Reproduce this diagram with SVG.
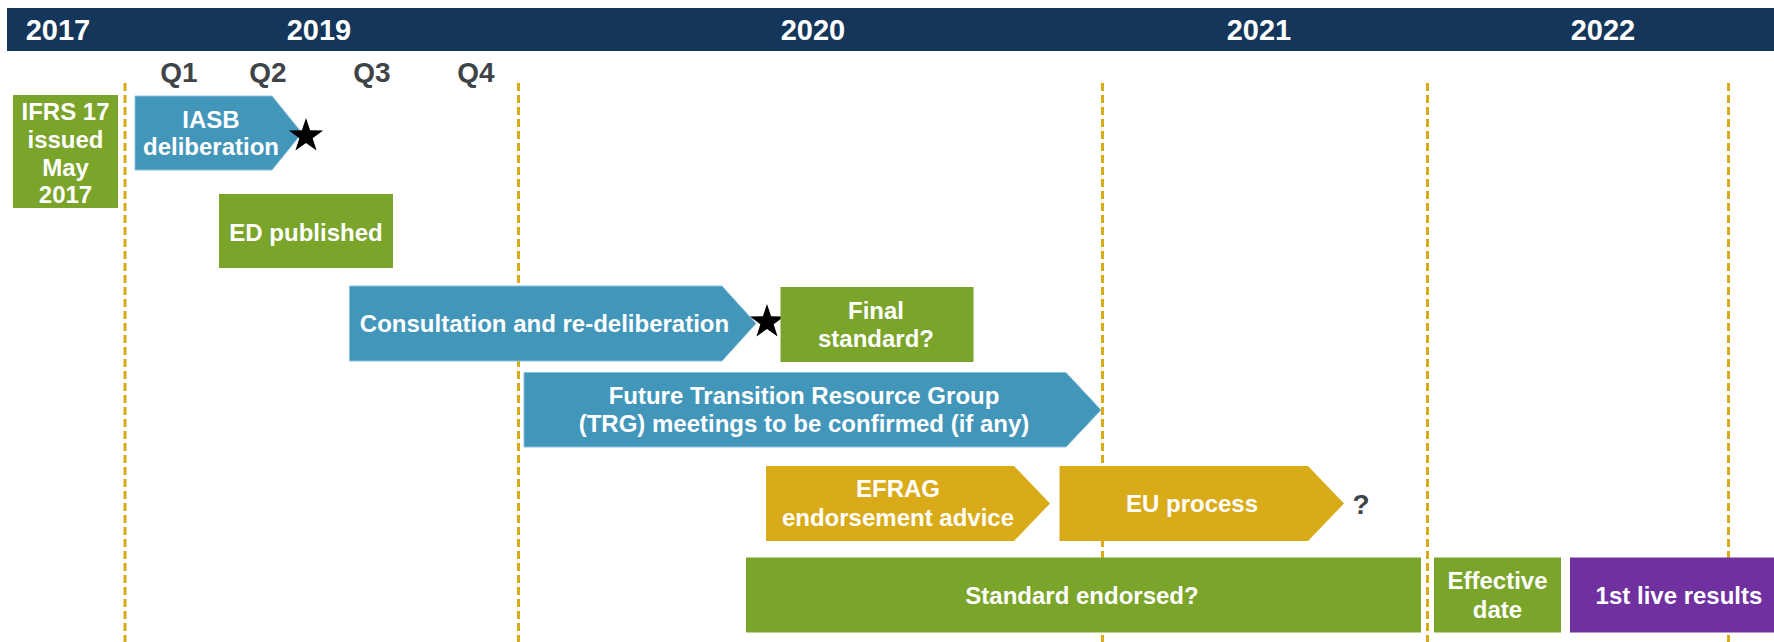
<svg xmlns="http://www.w3.org/2000/svg" width="1774" height="642" viewBox="0 0 1774 642">
<style>
text{font-family:"Liberation Sans",Arial,sans-serif;font-weight:bold;text-anchor:middle}
.yr{fill:#ffffff;font-size:29px}
.q{fill:#3f4448;font-size:28px}
.t{fill:#ffffff;font-size:24px}
.blue{fill:#4196ba;stroke:#8cc2da;stroke-width:1}
.green{fill:#7ba42b}
.gold{fill:#d9ab19}
.purple{fill:#7030a0}
.dash{stroke:#d9ab19;stroke-width:3;stroke-dasharray:8 4;fill:none}
</style>
<defs>
<polygon id="star" points="0,-18 4.11,-5.66 17.12,-5.56 6.66,2.16 10.58,14.56 0,7 -10.58,14.56 -6.66,2.16 -17.12,-5.56 -4.11,-5.66" fill="#000000"/>
</defs>
<g id="header">
<rect x="7" y="8" width="1767" height="43" fill="#14365a"/>
<text class="yr" x="58" y="39.5">2017</text>
<text class="yr" x="319" y="39.5">2019</text>
<text class="yr" x="813" y="39.5">2020</text>
<text class="yr" x="1259" y="39.5">2021</text>
<text class="yr" x="1603" y="39.5">2022</text>
<text class="q" x="179" y="81.5">Q1</text>
<text class="q" x="268" y="81.5">Q2</text>
<text class="q" x="372" y="81.5">Q3</text>
<text class="q" x="476" y="81.5">Q4</text>
</g>
<g id="gridlines">
<line class="dash" x1="125" y1="83" x2="125" y2="642"/>
<line class="dash" x1="518.5" y1="83" x2="518.5" y2="642"/>
<line class="dash" x1="1102.5" y1="83" x2="1102.5" y2="642"/>
<line class="dash" x1="1427.5" y1="83" x2="1427.5" y2="642"/>
<line class="dash" x1="1728.5" y1="83" x2="1728.5" y2="642"/>
</g>
<g id="ifrs17">
<rect class="green" x="13" y="95" width="105" height="113"/>
<text class="t" x="65.5" y="120">IFRS 17</text>
<text class="t" x="65.5" y="147.5">issued</text>
<text class="t" x="65.5" y="175.5">May</text>
<text class="t" x="65.5" y="203">2017</text>
</g>
<g id="iasb">
<polygon class="blue" points="135,96 272,96 302,133 272,170 135,170"/>
<text class="t" x="211" y="127.5">IASB</text>
<text class="t" x="211" y="155">deliberation</text>
<use href="#star" x="306" y="136"/>
</g>
<g id="ed">
<rect class="green" x="219" y="194" width="174" height="74"/>
<text class="t" x="306" y="240.5">ED published</text>
</g>
<g id="consultation">
<polygon class="blue" points="349.5,286 722,286 756,323.5 722,361 349.5,361"/>
<text class="t" x="544.5" y="331.5">Consultation and re-deliberation</text>
<use href="#star" x="767" y="322"/>
</g>
<g id="final">
<rect class="green" x="780.5" y="287" width="193" height="75"/>
<text class="t" x="876" y="319">Final</text>
<text class="t" x="876" y="347">standard?</text>
</g>
<g id="trg">
<polygon class="blue" points="524,372.5 1066,372.5 1101,410 1066,447 524,447"/>
<text class="t" x="804" y="404">Future Transition Resource Group</text>
<text class="t" x="804" y="431.5">(TRG) meetings to be confirmed (if any)</text>
</g>
<g id="efrag">
<polygon class="gold" points="766,466 1014,466 1050,503.5 1014,541 766,541"/>
<text class="t" x="898" y="496.5">EFRAG</text>
<text class="t" x="898" y="526">endorsement advice</text>
</g>
<g id="eu">
<polygon class="gold" points="1059.5,466 1308,466 1344,503.5 1308,541 1059.5,541"/>
<text class="t" x="1192" y="511.5">EU process</text>
<text class="q" x="1361" y="514">?</text>
</g>
<g id="endorsed">
<rect class="green" x="746" y="557.5" width="675" height="75"/>
<text class="t" x="1082" y="604">Standard endorsed?</text>
</g>
<g id="effective">
<rect class="green" x="1434" y="557.5" width="127" height="75"/>
<text class="t" x="1497.5" y="589">Effective</text>
<text class="t" x="1497.5" y="617.5">date</text>
</g>
<g id="live">
<rect class="purple" x="1570" y="557.5" width="204" height="75"/>
<text class="t" x="1679" y="604">1st live results</text>
</g>
<g id="connectors"/>
</svg>
